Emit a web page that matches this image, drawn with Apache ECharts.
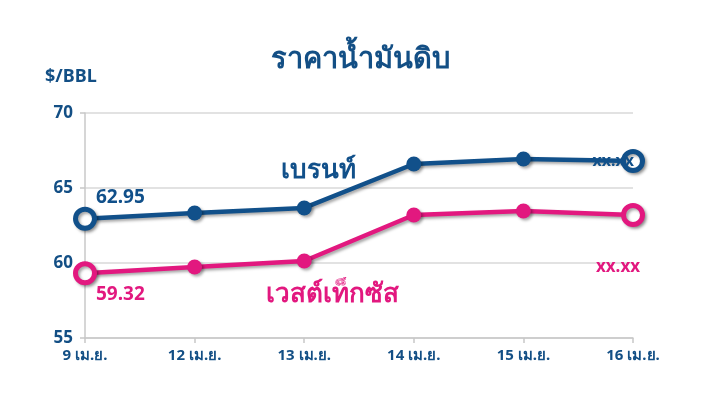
<!DOCTYPE html>
<html><head><meta charset="utf-8">
<script src="https://cdn.jsdelivr.net/npm/echarts@6/dist/echarts.min.js"></script>
<style>html,body{margin:0;padding:0;background:#fff}#c{width:721px;height:409px}</style>
</head><body><div id="c"></div>
<script>
const categories = ['9 เม.ย.', '12 เม.ย.', '13 เม.ย.', '14 เม.ย.', '15 เม.ย.', '16 เม.ย.'];
const brent = [62.95, 63.33, 63.67, 66.6, 66.93, 66.8];
const wti = [59.32, 59.73, 60.13, 63.2, 63.47, 63.2];
const yTicks = [55, 60, 65, 70];
const brentLabels = ['62.95', null, 'เบรนท์', null, null, 'xx.xx'];
const wtiLabels = ['59.32', null, 'เวสต์เท็กซัส', null, null, 'xx.xx'];

const BLUE = '#11508a', PINK = '#e2187f', AXIS = '#134f85';
const FONT = '"Noto Sans", "DejaVu Sans", sans-serif';
const shadow = {shadowColor: 'rgba(0,0,0,0.35)', shadowBlur: 3, shadowOffsetX: 2, shadowOffsetY: 2};

function buildData(vals, labels, color, cfg) {
  return vals.map((v, i) => {
    const end = (i === 0 || i === vals.length - 1);
    const item = {value: v};
    if (end) {
      item.symbolSize = 19;
      item.itemStyle = Object.assign({color: '#fff', borderColor: color, borderWidth: 5}, shadow);
    }
    if (labels[i]) {
      item.label = Object.assign({show: true, formatter: labels[i], color: color, fontWeight: 'bold', fontFamily: FONT}, cfg[i]);
    }
    return item;
  });
}

const brentCfg = {
  0: {position: 'right', offset: [-6, -21], fontSize: 19},
  2: {position: 'top', offset: [14, -12], fontSize: 26},
  5: {position: 'left', offset: [18, 0], fontSize: 16}
};
const wtiCfg = {
  0: {position: 'right', offset: [-6, 21], fontSize: 19},
  2: {position: 'bottom', offset: [28, 8], fontSize: 26},
  5: {position: 'bottom', offset: [-15, 27], fontSize: 17}
};

const chart = echarts.init(document.getElementById('c'));
chart.setOption({
  animation: false,
  title: {text: 'ราคาน้ำมันดิบ', left: 'center', top: 40,
    textStyle: {color: AXIS, fontSize: 29, fontWeight: 'bold', fontFamily: FONT}},
  graphic: [{type: 'text', left: 45, top: 68,
    style: {text: '$/BBL', fill: AXIS, font: 'bold 18px ' + FONT}}],
  grid: {left: 85, right: 88, top: 113, bottom: 71, containLabel: false},
  xAxis: {type: 'category', data: categories, boundaryGap: false,
    axisLine: {lineStyle: {color: '#c8c8c8', width: 1.5}},
    axisTick: {show: true, length: 5, lineStyle: {color: '#c8c8c8', width: 1.5}},
    axisLabel: {color: AXIS, fontWeight: 'bold', fontSize: 15, margin: 10, fontFamily: FONT}},
  yAxis: {type: 'value', min: yTicks[0], max: yTicks[yTicks.length - 1], interval: 5,
    axisLine: {show: true, lineStyle: {color: '#c8c8c8', width: 1.5}},
    axisTick: {show: true, length: 5, lineStyle: {color: '#c8c8c8', width: 1.5}},
    splitLine: {lineStyle: {color: '#d9d9d9', width: 1.5}},
    axisLabel: {color: AXIS, fontWeight: 'bold', fontSize: 17, margin: 12, fontFamily: FONT}},
  series: [
    {type: 'line', name: 'เบรนท์', data: buildData(brent, brentLabels, BLUE, brentCfg),
      symbol: 'circle', symbolSize: 15, color: BLUE,
      lineStyle: Object.assign({width: 4.5, color: BLUE}, shadow),
      itemStyle: Object.assign({color: BLUE}, shadow), z: 3},
    {type: 'line', name: 'เวสต์เท็กซัส', data: buildData(wti, wtiLabels, PINK, wtiCfg),
      symbol: 'circle', symbolSize: 15, color: PINK,
      lineStyle: Object.assign({width: 4.5, color: PINK}, shadow),
      itemStyle: Object.assign({color: PINK}, shadow), z: 2}
  ]
});
</script></body></html>
